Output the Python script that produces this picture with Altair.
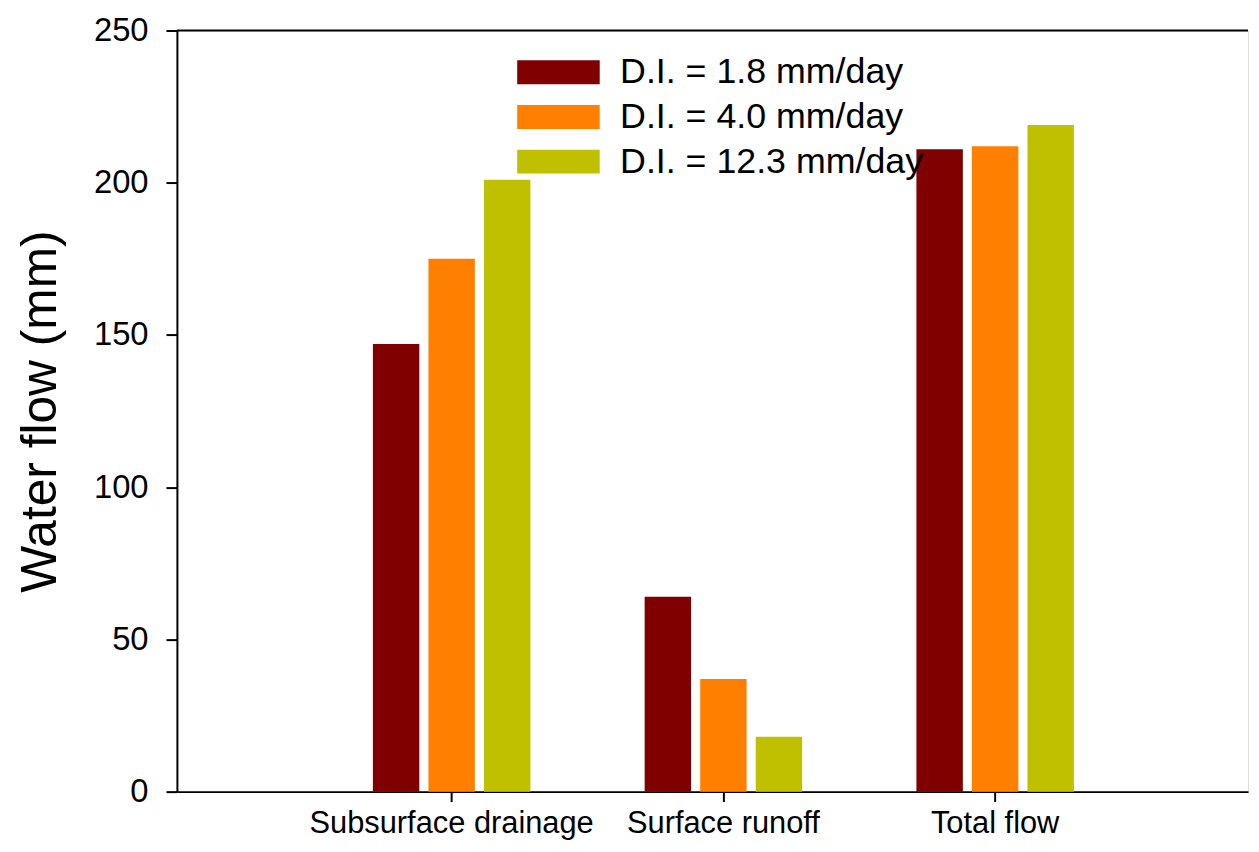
import altair as alt
import pandas as pd

categories = ["Subsurface drainage", "Surface runoff", "Total flow"]
series = ["D.I. = 1.8 mm/day", "D.I. = 4.0 mm/day", "D.I. = 12.3 mm/day"]
values_18 = [147, 64, 211]
values_40 = [175, 37, 212]
values_123 = [201, 18, 219]
colors = ["#800000", "#FF8000", "#C0C000"]
y_ticks = [0, 50, 100, 150, 200, 250]

rows = []
for s, vals in zip(series, [values_18, values_40, values_123]):
    for c, v in zip(categories, vals):
        rows.append({"category": c, "series": s, "value": v})
df = pd.DataFrame(rows)

FONT = "Arial, Liberation Sans, sans-serif"

bars = alt.Chart(df).mark_bar(stroke=None).encode(
    x=alt.X("category:N", sort=categories,
            scale=alt.Scale(paddingInner=0.4, paddingOuter=0.6707, align=0.530),
            axis=alt.Axis(title=None, labelAngle=0, labelFontSize=31, labelFont=FONT,
                          labelColor="black", labelLimit=600, tickSize=10, tickWidth=2,
                          tickColor="black", domainWidth=2, domainColor="black",
                          labelPadding=7)),
    xOffset=alt.XOffset("series:N", sort=series,
                        scale=alt.Scale(paddingInner=0.164, paddingOuter=0.05)),
    y=alt.Y("value:Q", scale=alt.Scale(domain=[0, 250], nice=False),
            axis=alt.Axis(title="Water flow (mm)", values=y_ticks, grid=False,
                          titleFontSize=50, titleFont=FONT, titleFontWeight="normal",
                          titleColor="black", titlePadding=28,
                          labelFontSize=33, labelFont=FONT, labelColor="black",
                          tickSize=11, tickWidth=2, tickColor="black",
                          domainWidth=2, domainColor="black", labelPadding=18)),
    color=alt.Color("series:N", sort=series,
                    scale=alt.Scale(domain=series, range=colors),
                    legend=alt.Legend(title=None, orient="none", legendX=366, legendY=24,
                                      symbolType="M-3.46,-1H3.46V1H-3.46Z",
                                      symbolSize=576, symbolStrokeWidth=0,
                                      symbolOpacity=1,
                                      labelFontSize=36, labelFont=FONT, labelColor="black",
                                      labelOffset=44, rowPadding=9, padding=0,
                                      labelLimit=600)),
)

top_line = alt.Chart(pd.DataFrame({"v": [250]})).mark_rule(color="black", strokeWidth=2).encode(
    y=alt.Y("v:Q", scale=alt.Scale(domain=[0, 250], nice=False)),
)

chart = alt.layer(bars, top_line).properties(
    width=1078, height=766,
    autosize=alt.AutoSizeParams(type="none"),
    padding={"left": 170, "top": 20, "right": 3, "bottom": 46},
).configure_view(stroke=None).configure(background="white")

chart.save("out.html", embed_options={"renderer": "svg", "actions": False})
